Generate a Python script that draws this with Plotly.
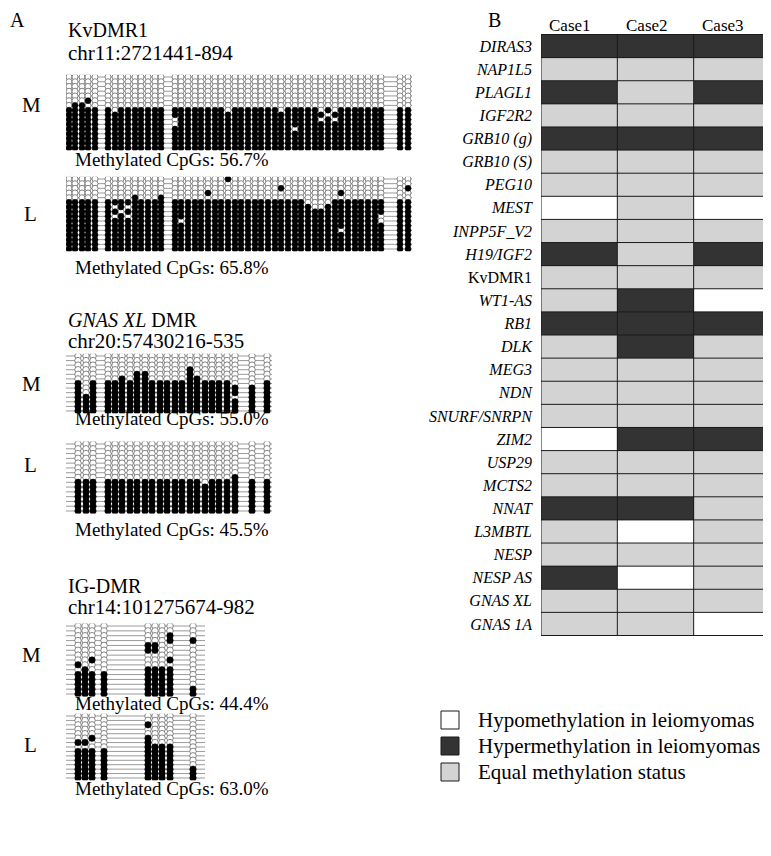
import plotly.graph_objects as go

W, H = 771, 856          # browser window
OFF = 8                  # default body margin of the html page
FW, FH = W - OFF, H - 2 * OFF - 24   # figure size that fits the window without scrollbars
SERIF = "Liberation Serif, Times New Roman, serif"

# ---------------- Panel B data ----------------
GENES = ["DIRAS3", "NAP1L5", "PLAGL1", "IGF2R2", "GRB10 (g)", "GRB10 (S)", "PEG10", "MEST",
         "INPP5F_V2", "H19/IGF2", "KvDMR1", "WT1-AS", "RB1", "DLK", "MEG3", "NDN",
         "SNURF/SNRPN", "ZIM2", "USP29", "MCTS2", "NNAT", "L3MBTL", "NESP", "NESP AS",
         "GNAS XL", "GNAS 1A"]
CASES = ["Case1", "Case2", "Case3"]
CASE1 = ["hyper", "equal", "hyper", "equal", "hyper", "equal", "equal", "hypo", "equal", "hyper",
         "equal", "equal", "hyper", "equal", "equal", "equal", "equal", "hypo", "equal", "equal",
         "hyper", "equal", "equal", "hyper", "equal", "equal"]
CASE2 = ["hyper", "equal", "equal", "equal", "hyper", "equal", "equal", "equal", "equal", "equal",
         "equal", "hyper", "hyper", "hyper", "equal", "equal", "equal", "hyper", "equal", "equal",
         "hyper", "hypo", "equal", "hypo", "equal", "equal"]
CASE3 = ["hyper", "equal", "hyper", "equal", "hyper", "equal", "equal", "hypo", "equal", "hyper",
         "equal", "hypo", "hyper", "equal", "equal", "equal", "equal", "hyper", "equal", "equal",
         "equal", "equal", "equal", "equal", "equal", "hypo"]
NON_ITALIC = ["KvDMR1"]
LEGEND_LABELS = ["Hypomethylation in leiomyomas", "Hypermethylation in leiomyomas",
                 "Equal methylation status"]

# ---------------- Panel A data ----------------
# CpG relative positions; per CpG the first methylated clone row (counted from the top),
# plus isolated methylated dots and unmethylated holes as (row, cpg) pairs
KV_POS = [69, 75, 82, 88, 95, 108, 115, 121, 128, 135, 141, 148, 155, 161, 175, 181, 188, 195,
          201, 208, 215, 221, 228, 235, 241, 248, 255, 261, 268, 275, 281, 288, 295, 301, 308,
          315, 321, 328, 335, 341, 348, 355, 361, 368, 375, 381, 400, 408]
KV_M_ROWS = 16
KV_M_TOP = [7, 6, 6, 7, 7, 7, 8, 7, 7, 7, 7, 7, 7, 7, 7, 7, 7, 7, 7, 7, 7, 7, 8, 7,
            7, 7, 7, 7, 7, 7, 8, 7, 7, 7, 7, 7, 7, 7, 7, 7, 7, 7, 7, 7, 7, 7, 7, 7]
KV_M_EXTRA = [(5, 3)]
KV_M_HOLES = [(9, 14), (10, 14), (11, 32), (7, 36), (8, 37), (9, 38), (7, 38), (9, 36)]

KV_L_ROWS = 16
KV_L_TOP = [5, 5, 5, 5, 5, 5, 5, 5, 5, 4, 5, 5, 5, 4, 5, 5, 5, 5, 5, 5, 5, 5, 5, 5,
            5, 5, 5, 5, 5, 5, 5, 5, 5, 5, 6, 7, 7, 6, 5, 5, 5, 5, 5, 5, 5, 5, 5, 5]
KV_L_EXTRA = [(0, 22), (3, 19), (2, 30), (3, 39), (2, 47)]
KV_L_HOLES = [(6, 6), (7, 7), (8, 8), (6, 8), (8, 6), (9, 15), (11, 39), (8, 45), (9, 45)]

GN_POS = [78, 86, 93, 108, 115, 122, 130, 137, 145, 152, 160, 167, 175, 182, 190, 197, 205, 212,
          219, 227, 235, 252, 267]
GN_M_ROWS = 13
GN_M_TOP = [6, 9, 6, 6, 6, 5, 6, 4, 4, 6, 6, 6, 6, 6, 3, 5, 6, 6, 6, 6, 7, 7, 6]
GN_M_EXTRA = []
GN_M_HOLES = [(9, 20)]

GN_L_ROWS = 15
GN_L_TOP = [8, 8, 8, 8, 8, 8, 8, 8, 8, 8, 8, 8, 8, 8, 8, 8, 9, 8, 8, 8, 7, 8, 8]
GN_L_EXTRA = []
GN_L_HOLES = []

IG_POS = [78, 85, 92, 104, 148, 155, 162, 170, 193]
IG_M_ROWS = 15
IG_M_TOP = [10, 10, 10, 10, 9, 9, 9, 9, 13]
IG_M_EXTRA = [(8, 0), (9, 1), (7, 2), (4, 4), (5, 4), (4, 5), (5, 5), (2, 7), (3, 7), (7, 7), (3, 8)]
IG_M_HOLES = []

IG_L_ROWS = 15
IG_L_TOP = [8, 8, 8, 8, 5, 7, 7, 7, 12]
IG_L_EXTRA = [(6, 0), (6, 1), (5, 2), (2, 4)]
IG_L_HOLES = []

# ---------------- layout constants (window pixels) ----------------
# block: (x_left, x_right, y_first_row, y_last_row, marker size)
BLOCKS = [
    (KV_POS, KV_M_ROWS, KV_M_TOP, KV_M_EXTRA, KV_M_HOLES, (66, 412, 77, 148, 6)),
    (KV_POS, KV_L_ROWS, KV_L_TOP, KV_L_EXTRA, KV_L_HOLES, (66, 412, 179, 249, 6)),
    (GN_POS, GN_M_ROWS, GN_M_TOP, GN_M_EXTRA, GN_M_HOLES, (66, 272, 356, 411, 6.5)),
    (GN_POS, GN_L_ROWS, GN_L_TOP, GN_L_EXTRA, GN_L_HOLES, (66, 272, 444, 511, 6.5)),
    (IG_POS, IG_M_ROWS, IG_M_TOP, IG_M_EXTRA, IG_M_HOLES, (66, 205, 626, 694, 6.5)),
    (IG_POS, IG_L_ROWS, IG_L_TOP, IG_L_EXTRA, IG_L_HOLES, (66, 205, 716, 778, 6.5)),
]


def px(x):
    return (x - OFF) / FW


def py(y):
    return 1 - (y - OFF) / FH


def build_matrix(nrows, ncols, top, extra, holes):
    m = [[1 if r >= top[c] else 0 for c in range(ncols)] for r in range(nrows)]
    for r, c in extra:
        m[r][c] = 1
    for r, c in holes:
        m[r][c] = 0
    return m


fig = go.Figure()
layout = {}

for k, (pos, nrows, top, extra, holes, (xl, xr, yf, yl, msz)) in enumerate(BLOCKS, start=2):
    m = build_matrix(nrows, len(pos), top, extra, holes)
    sp = (yl - yf) / (nrows - 1)
    ytop = yf - sp / 2
    ybot = yl + sp / 2
    xa, ya = f"x{k}", f"y{k}"
    layout[f"xaxis{k}"] = dict(domain=[px(xl), px(xr)], range=[xl, xr], visible=False,
                               anchor=ya, fixedrange=True)
    layout[f"yaxis{k}"] = dict(domain=[py(ybot), py(ytop)], range=[nrows - 0.5, -0.5],
                               visible=False, anchor=xa, fixedrange=True)
    lx, ly = [], []
    for r in range(nrows):
        lx += [xl, xr, None]
        ly += [r, r, None]
    fig.add_trace(go.Scatter(x=lx, y=ly, mode="lines", line=dict(color="#9a9a9a", width=1),
                             xaxis=xa, yaxis=ya, hoverinfo="skip", showlegend=False))
    ux, uy, mx, my = [], [], [], []
    for r in range(nrows):
        for c, p in enumerate(pos):
            if m[r][c]:
                mx.append(p); my.append(r)
            else:
                ux.append(p); uy.append(r)
    fig.add_trace(go.Scatter(x=ux, y=uy, mode="markers",
                             marker=dict(symbol="circle", size=msz, color="white",
                                         line=dict(color="#6a6a6a", width=0.8)),
                             xaxis=xa, yaxis=ya, hoverinfo="skip", showlegend=False))
    fig.add_trace(go.Scatter(x=mx, y=my, mode="markers",
                             marker=dict(symbol="circle", size=msz, color="black",
                                         line=dict(color="black", width=0.5)),
                             xaxis=xa, yaxis=ya, hoverinfo="skip", showlegend=False))

# ---------------- Panel B heatmap ----------------
CODE = {"hypo": 0, "hyper": 1, "equal": 2}
z = [[CODE[CASE1[i]], CODE[CASE2[i]], CODE[CASE3[i]]] for i in range(len(GENES))]
fig.add_trace(go.Heatmap(
    x=CASES, y=GENES, z=z, zmin=0, zmax=2, showscale=False, hoverinfo="skip",
    colorscale=[[0, "#ffffff"], [0.333, "#ffffff"], [0.333, "#333333"], [0.667, "#333333"],
                [0.667, "#d3d3d3"], [1, "#d3d3d3"]],
    xaxis="x", yaxis="y"))

TX0, TX1, TY0, TY1 = 541, 770, 34, 636
ticktext = [g if g in NON_ITALIC else f"<i>{g}</i>" for g in GENES]
layout["xaxis"] = dict(domain=[px(TX0), px(TX1)], side="top", showgrid=False, zeroline=False,
                       showline=False, ticks="", showticklabels=False, anchor="y",
                       fixedrange=True, range=[-0.5, len(CASES) - 0.5])
layout["yaxis"] = dict(domain=[py(TY1), py(TY0)], autorange="reversed", showgrid=False,
                       zeroline=False, showline=False, ticks="", tickvals=GENES, ticktext=ticktext,
                       tickfont=dict(family=SERIF, size=16, color="black"), anchor="x",
                       fixedrange=True, ticklabelstandoff=8)

shapes = []
annotations = []
n = len(GENES)
for j in range(len(CASES) + 1):
    shapes.append(dict(type="line", xref="x", yref="y", x0=j - 0.5, x1=j - 0.5, y0=-0.5,
                       y1=n - 0.5, line=dict(color="#1a1a1a", width=1)))
for i in range(n + 1):
    shapes.append(dict(type="line", xref="x", yref="y", x0=-0.5, x1=len(CASES) - 0.5,
                       y0=i - 0.5, y1=i - 0.5, line=dict(color="#1a1a1a", width=1)))
# column headers (sit slightly left of the column centres, as in the original)
for j, c in enumerate(CASES):
    annotations.append(dict(x=j, y=py(25), xref="x", yref="paper", text=c, showarrow=False,
                            xanchor="center", yanchor="middle", xshift=-9,
                            font=dict(family=SERIF, size=17, color="black")))

# legend boxes
LEG_FILL = ["#ffffff", "#333333", "#d3d3d3"]
LEG_Y = [720, 746, 772]
for fill, yc, lab in zip(LEG_FILL, LEG_Y, LEGEND_LABELS):
    shapes.append(dict(type="rect", xref="paper", yref="paper", x0=px(441), x1=px(459),
                       y0=py(yc + 9), y1=py(yc - 9), fillcolor=fill,
                       line=dict(color="#1a1a1a", width=1)))
    annotations.append(dict(x=px(476), y=py(yc), xref="paper", yref="paper", text=lab,
                            showarrow=False, xanchor="left", yanchor="middle",
                            font=dict(family=SERIF, size=21, color="black")))


def txt(x, y, s, size=19):
    annotations.append(dict(x=px(x), y=py(y), xref="paper", yref="paper", text=s,
                            showarrow=False, xanchor="left", yanchor="middle",
                            font=dict(family=SERIF, size=size, color="black")))


txt(8, 20, "A", 20)
txt(486, 20, "B", 20)
txt(66, 30, "KvDMR1", 20)
txt(66, 53, "chr11:2721441-894", 21)
txt(20, 105, "M", 21)
txt(73, 159, "Methylated CpGs: 56.7%", 19)
txt(22, 214, "L", 21)
txt(73, 267, "Methylated CpGs: 65.8%", 19)
txt(66, 320, "<i>GNAS XL</i> DMR", 20)
txt(66, 341, "chr20:57430216-535", 21)
txt(20, 384, "M", 21)
txt(73, 418, "Methylated CpGs: 55.0%", 19)
txt(22, 465, "L", 21)
txt(73, 529, "Methylated CpGs: 45.5%", 19)
txt(66, 586, "IG-DMR", 20)
txt(66, 607, "chr14:101275674-982", 21)
txt(20, 655, "M", 21)
txt(73, 703, "Methylated CpGs: 44.4%", 19)
txt(22, 745, "L", 21)
txt(73, 788, "Methylated CpGs: 63.0%", 19)

fig.update_layout(
    width=FW, height=FH, margin=dict(l=0, r=0, t=0, b=0), autosize=False,
    paper_bgcolor="white", plot_bgcolor="white", showlegend=False,
    shapes=shapes, annotations=annotations, **layout)

fig.write_html("out.html")
